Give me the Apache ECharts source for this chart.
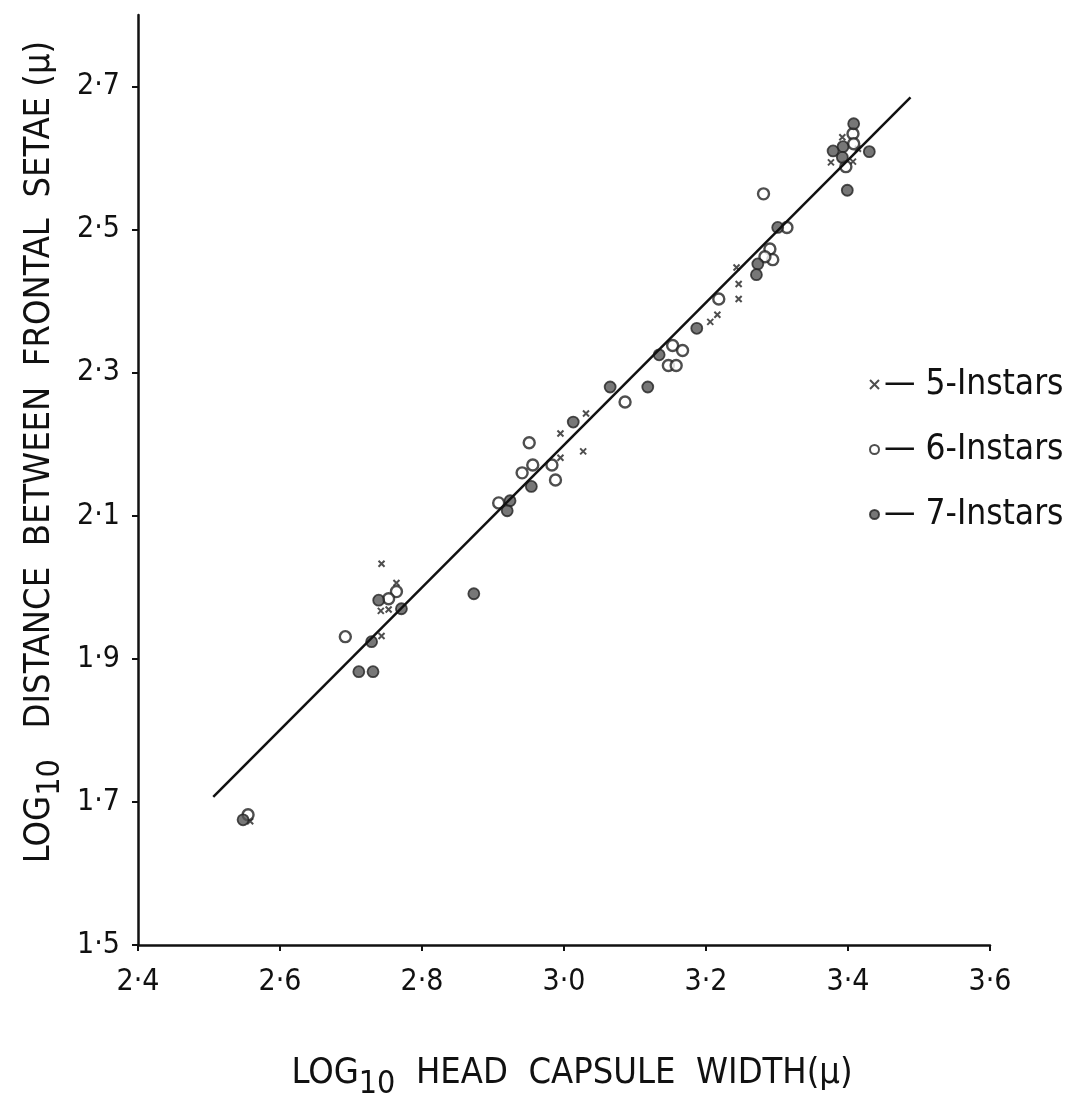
<!DOCTYPE html>
<html>
<head>
<meta charset="utf-8">
<script src="https://cdn.jsdelivr.net/npm/echarts@6/dist/echarts.min.js"></script>
<style>
  html, body { margin: 0; padding: 0; background: #fff; }
  #chart { width: 1077px; height: 1096px; }
</style>
</head>
<body>
<div id="chart"></div>
<script>
// log10 head capsule width vs log10 distance between frontal setae
var FONT = "'DejaVu Sans Condensed', 'Liberation Sans Narrow', sans-serif"

var instar5 = [
  [2.743, 2.033], [2.764, 2.006], [2.742, 1.967], [2.753, 1.969], [2.743, 1.932],
  [2.558, 1.673], [3.031, 2.243], [2.995, 2.215], [3.027, 2.190], [2.995, 2.181],
  [3.243, 2.447], [3.246, 2.424], [3.246, 2.403], [3.216, 2.381], [3.206, 2.371],
  [3.392, 2.629], [3.414, 2.613], [3.376, 2.594], [3.407, 2.595]
]
var instar6 = [
  [2.764, 1.994], [2.753, 1.984], [2.692, 1.931], [2.555, 1.682], [3.086, 2.259],
  [2.951, 2.202], [2.956, 2.171], [2.983, 2.171], [2.941, 2.160], [2.988, 2.150],
  [2.908, 2.118], [3.314, 2.503], [3.290, 2.473], [3.294, 2.458], [3.283, 2.462],
  [3.218, 2.403], [3.153, 2.338], [3.167, 2.331], [3.147, 2.310], [3.158, 2.310],
  [3.281, 2.550], [3.407, 2.634], [3.408, 2.620], [3.397, 2.588]
]
var instar7 = [
  [2.739, 1.982], [2.771, 1.970], [2.729, 1.924], [2.711, 1.882], [2.731, 1.882],
  [2.873, 1.991], [2.548, 1.675], [3.013, 2.231], [2.954, 2.141], [2.924, 2.121],
  [2.920, 2.107], [3.065, 2.280], [3.118, 2.280], [3.301, 2.503], [3.273, 2.452],
  [3.271, 2.437], [3.187, 2.362], [3.134, 2.325], [3.408, 2.648], [3.393, 2.616],
  [3.379, 2.610], [3.430, 2.609], [3.392, 2.601], [3.399, 2.555]
]
var fitLine = [[2.506, 1.707], [3.488, 2.685]]
var yTicks = [1.5, 1.7, 1.9, 2.1, 2.3, 2.5, 2.7]

var seriesNames = ['5-Instars', '6-Instars', '7-Instars']

function fmt(v) {
  return Number(v).toFixed(1).replace('.', '·')
}

var chart = echarts.init(document.getElementById('chart'))

var titleRich = {
  a: { fontFamily: FONT, fontSize: 36, fill: '#111' },
  s: { fontFamily: FONT, fontSize: 32, fill: '#111', padding: [22, 0, 0, 0] }
}

var option = {
  animation: false,
  backgroundColor: '#fff',
  grid: { left: 138, right: 87, top: 15, bottom: 151 },
  xAxis: {
    type: 'value',
    min: 2.4,
    max: 3.6,
    interval: 0.2,
    axisLine: { lineStyle: { color: '#111', width: 2.5 } },
    axisTick: { length: 6, lineStyle: { color: '#111', width: 2 } },
    axisLabel: {
      color: '#111',
      fontFamily: FONT,
      fontSize: 30,
      margin: 22,
      formatter: fmt
    },
    splitLine: { show: false }
  },
  yAxis: {
    type: 'value',
    min: 1.5,
    max: 2.8,
    axisLine: { show: true, lineStyle: { color: '#111', width: 2.5 } },
    axisTick: { show: true, length: 6, customValues: yTicks, lineStyle: { color: '#111', width: 2 } },
    axisLabel: {
      color: '#111',
      fontFamily: FONT,
      fontSize: 30,
      margin: 18,
      customValues: yTicks,
      formatter: fmt
    },
    splitLine: { show: false }
  },
  legend: {
    orient: 'vertical',
    left: 864,
    top: 362,
    itemGap: 30,
    itemWidth: 9,
    itemHeight: 9,
    data: seriesNames,
    formatter: function (name) { return '— ' + name },
    textStyle: { color: '#111', fontFamily: FONT, fontSize: 35 }
  },
  graphic: [
    {
      type: 'text',
      x: 572,
      y: 1074,
      style: {
        text: '{a|LOG}{s|10}{a|  HEAD  CAPSULE  WIDTH(µ)}',
        align: 'center',
        verticalAlign: 'middle',
        fill: '#111',
        rich: titleRich
      }
    },
    {
      type: 'text',
      x: 40,
      y: 452,
      rotation: Math.PI / 2,
      style: {
        text: '{a|LOG}{s|10}{a|   DISTANCE  BETWEEN  FRONTAL  SETAE (µ)}',
        align: 'center',
        verticalAlign: 'middle',
        fill: '#111',
        rich: titleRich
      }
    }
  ],
  series: [
    {
      name: 'fit',
      type: 'line',
      data: fitLine,
      symbol: 'none',
      silent: true,
      lineStyle: { color: '#111', width: 2.5 }
    },
    {
      name: '5-Instars',
      type: 'scatter',
      data: instar5,
      symbol: 'path://M0,0L10,10M10,0L0,10',
      symbolSize: 6,
      itemStyle: { color: 'transparent', borderColor: '#222', borderWidth: 2 }
    },
    {
      name: '6-Instars',
      type: 'scatter',
      data: instar6,
      symbol: 'circle',
      symbolSize: 11,
      itemStyle: { color: '#fff', borderColor: '#222', borderWidth: 2.4 }
    },
    {
      name: '7-Instars',
      type: 'scatter',
      data: instar7,
      symbol: 'circle',
      symbolSize: 11,
      itemStyle: { color: '#555', borderColor: '#222', borderWidth: 1.8 }
    }
  ]
}

chart.setOption(option)
</script>
</body>
</html>
